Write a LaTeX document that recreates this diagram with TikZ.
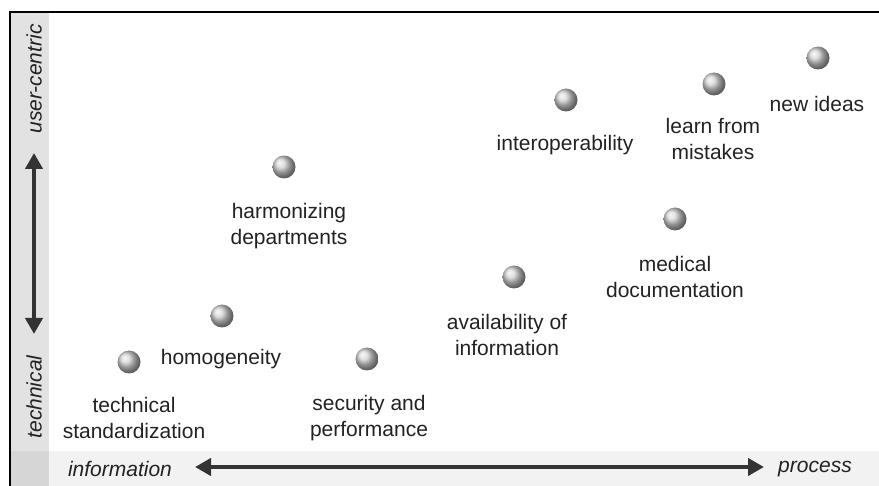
\documentclass[tikz,border=0pt]{standalone}
\usepackage{fontspec}
\setmainfont{Liberation Sans}
\usetikzlibrary{arrows.meta}
\definecolor{ink}{HTML}{222222}
\definecolor{arrowgray}{HTML}{333333}
\definecolor{sidestrip}{HTML}{E2E2E2}
\definecolor{basestrip}{HTML}{F2F2F2}
\definecolor{cornerbox}{HTML}{D6D6D6}
\tikzset{
  ball/.style={circle, minimum size=23pt, inner sep=0pt, shading=ball, ball color=gray!35!white},
  lbl/.style={text=ink, align=center, inner sep=0pt, font=\fontsize{21}{26}\selectfont},
  axislbl/.style={text=ink, inner sep=0pt, font=\fontsize{21}{26}\selectfont\itshape},
  axisarrow/.style={draw=arrowgray, line width=4.5pt, {Triangle[width=17pt,length=16pt]}-{Triangle[width=17pt,length=16pt]}}
}
\begin{document}
\begin{tikzpicture}[x=1pt, y=-1pt]
  \useasboundingbox (0,0) rectangle (879,486);
  % axis strips
  \fill[sidestrip] (10,12) rectangle (49,486);
  \fill[basestrip] (49,451) rectangle (879,486);
  \fill[cornerbox] (10,451) rectangle (49,486);
  % frame
  \draw[line width=2pt, black] (9.5,486) -- (9.5,12) -- (879,12);

  % axis labels
  \node[axislbl, rotate=90] (ucent) at (34,79) {user-centric};
  \node[axislbl, rotate=90] (tech) at (34,397) {technical};
  \node[axislbl] (info) at (120,469) {information};
  \node[axislbl] (proc) at (815,469) {process};

  % axis arrows
  \coordinate (vtop) at (34,153);
  \coordinate (vbot) at (34,334);
  \coordinate (hleft) at (195,467);
  \coordinate (hright) at (764,467);
  \draw[axisarrow] (vtop) -- (vbot);
  \draw[axisarrow] (hleft) -- (hright);

  % spheres
  \node[ball] (b1) at (129,362) {};
  \node[ball] (b2) at (222,316) {};
  \node[ball] (b3) at (284,167) {};
  \node[ball] (b4) at (367,359) {};
  \node[ball] (b5) at (514,277) {};
  \node[ball] (b6) at (566,100) {};
  \node[ball] (b7) at (675,219) {};
  \node[ball] (b8) at (714,84) {};
  \node[ball] (b9) at (818,58) {};

  % labels
  \node[lbl] (t1) at (134,418) {technical\\standardization};
  \node[lbl] (t2) at (221,359) {homogeneity};
  \node[lbl] (t3) at (289,226) {harmonizing\\departments};
  \node[lbl] (t4) at (369,418) {security and\\performance};
  \node[lbl] (t5) at (507,335) {availability of\\information};
  \node[lbl] (t6) at (565,145) {interoperability};
  \node[lbl] (t7) at (675,277) {medical\\documentation};
  \node[lbl] (t8) at (713,139) {learn from\\mistakes};
  \node[lbl] (t9) at (817,104) {new ideas};
\end{tikzpicture}
\end{document}
